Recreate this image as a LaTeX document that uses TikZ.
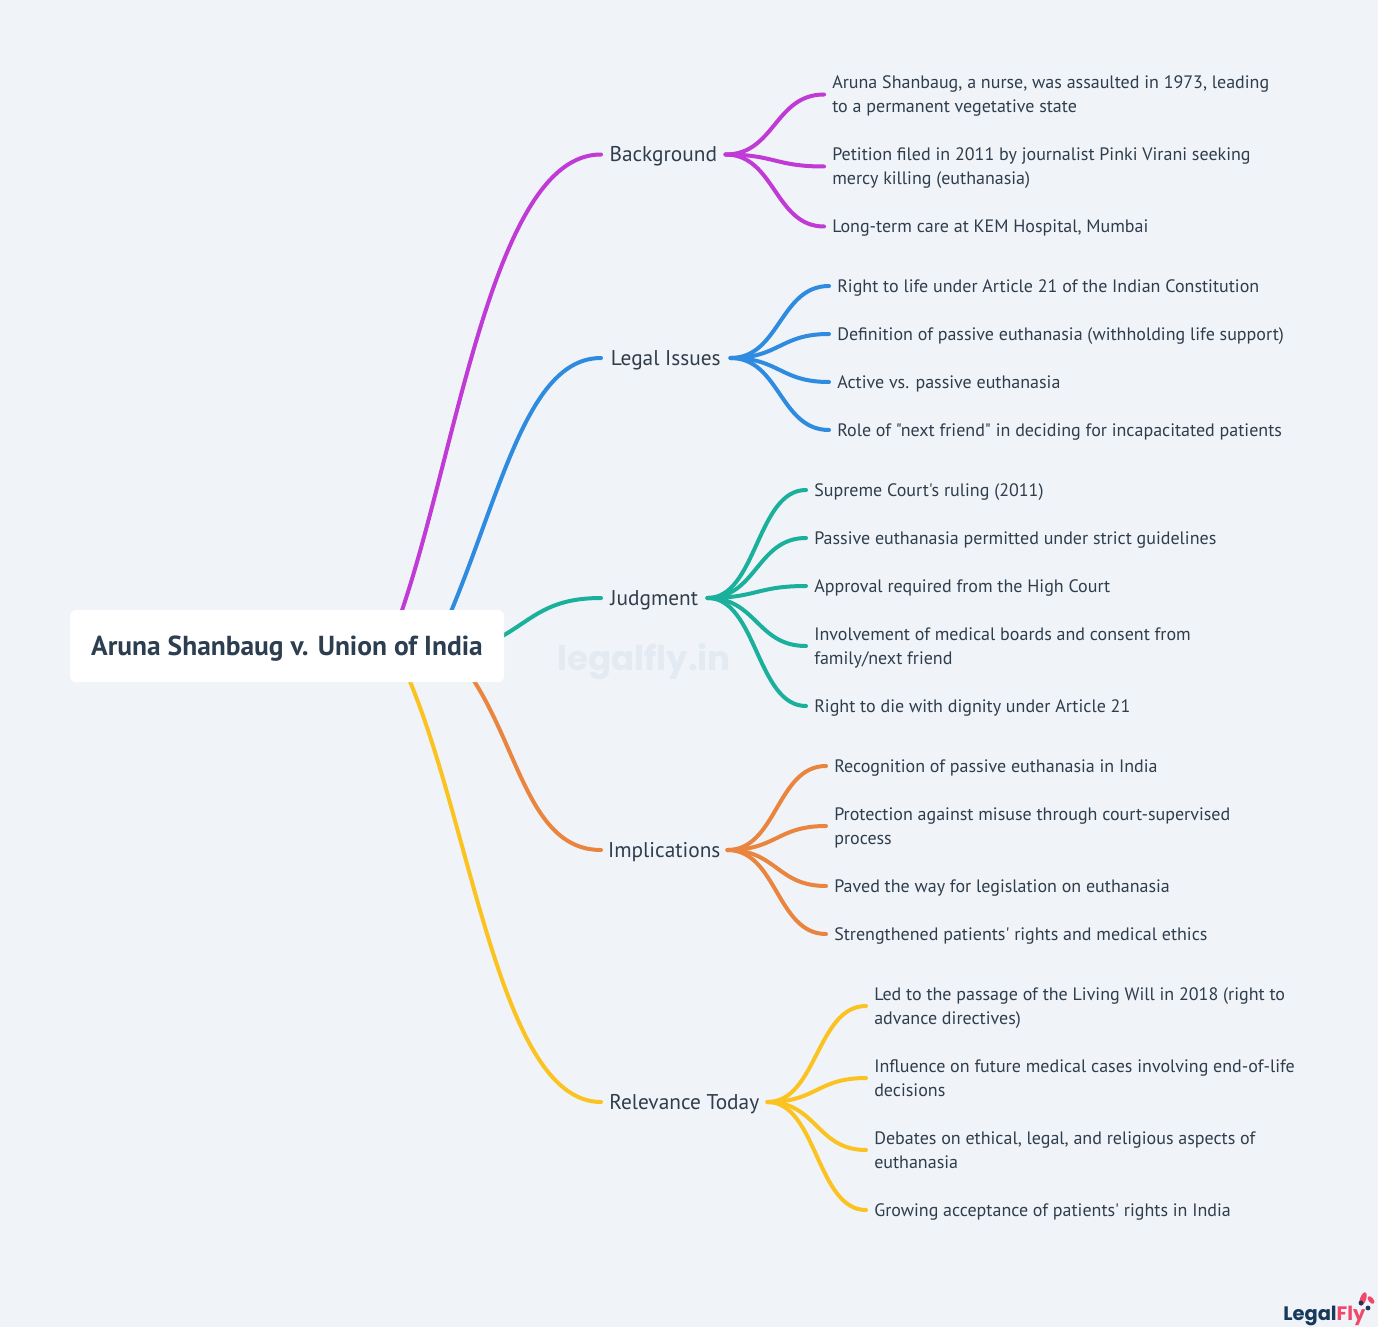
\documentclass[tikz,border=0pt]{standalone}
\usepackage{fontspec}
\setmainfont{PT Sans}[Ligatures=TeXOff]
\newfontfamily\logofont{Poppins}
\usetikzlibrary{calc}
\pgfdeclarelayer{canvas}
\pgfdeclarelayer{links}
\pgfsetlayers{canvas,links,main}
\definecolor{pagebg}{HTML}{F0F4F8}
\definecolor{inkc}{HTML}{2F3D4C}
\definecolor{rootc}{HTML}{2C3E50}
\definecolor{cpurple}{HTML}{C03AD6}
\definecolor{cblue}{HTML}{2E8BE0}
\definecolor{cteal}{HTML}{1AB09C}
\definecolor{corange}{HTML}{E9853E}
\definecolor{cyellow}{HTML}{FBC322}
\definecolor{wmark}{HTML}{E3EAF1}
\definecolor{lognavy}{HTML}{17395C}
\definecolor{logred}{HTML}{F0476A}
\newcommand\ls{\rule[-4.5pt]{0pt}{18pt}}
\newcommand\bs{\rule[-4.5pt]{0pt}{19.5pt}}
\newcommand\rs{\rule[-10pt]{0pt}{33.5pt}}
\tikzset{
  x=0.75pt,y=-0.75pt,
  rootbox/.style={fill=white,rounded corners=4.5pt,minimum width=325.5pt,minimum height=54pt,inner sep=0pt,text=rootc,font=\fontsize{20.6pt}{24pt}\selectfont\bfseries},
  branch/.style={anchor=west,inner sep=0pt,text=inkc,font=\fontsize{16pt}{18pt}\selectfont},
  leaf/.style={anchor=west,inner xsep=6pt,inner ysep=0pt,align=left,text=inkc,font=\fontsize{13.5pt}{18pt}\selectfont},
  link/.style={line width=3pt,line cap=round},
}
\newcommand\conn[3]{\draw[link,#3] let \p1=(#1.east),\p2=(#2.west),\n1={(\x1+\x2)/2} in (\p1) .. controls (\n1,\y1) and (\n1,\y2) .. (\p2);}
\begin{document}
\begin{tikzpicture}
\useasboundingbox (0,0) rectangle (1378,1327);
\begin{pgfonlayer}{canvas}
  \fill[pagebg] (0,0) rectangle (1378,1327);
  \node[text=wmark,font=\logofont\fontsize{25.5pt}{30pt}\selectfont\bfseries] (wm) at (644,662) {legalfly.in};
\end{pgfonlayer}

\node[rootbox] (root) at (287,646) {\rs Aruna Shanbaug v. Union of India};

\node[branch,minimum width=93pt] (bg) at (601,154.5) {\bs Background};
\node[branch,minimum width=96.75pt] (li) at (601,358) {\bs Legal Issues};
\node[branch,minimum width=79.5pt] (ju) at (601,598) {\bs Judgment};
\node[branch,minimum width=94.5pt] (im) at (601,850) {\bs Implications};
\node[branch,minimum width=124.5pt] (re) at (601,1102) {\bs Relevance Today};

\node[leaf] (b1) at (824,94.5) {\ls Aruna Shanbaug, a nurse, was assaulted in 1973, leading\\\ls to a permanent vegetative state};
\node[leaf] (b2) at (824,166.5) {\ls Petition filed in 2011 by journalist Pinki Virani seeking\\\ls mercy killing (euthanasia)};
\node[leaf] (b3) at (824,226.5) {\ls Long-term care at KEM Hospital, Mumbai};

\node[leaf] (l1) at (829,286) {\ls Right to life under Article 21 of the Indian Constitution};
\node[leaf] (l2) at (829,334) {\ls Definition of passive euthanasia (withholding life support)};
\node[leaf] (l3) at (829,382) {\ls Active vs. passive euthanasia};
\node[leaf] (l4) at (829,430) {\ls Role of "next friend" in deciding for incapacitated patients};

\node[leaf] (j1) at (806,490) {\ls Supreme Court's ruling (2011)};
\node[leaf] (j2) at (806,538) {\ls Passive euthanasia permitted under strict guidelines};
\node[leaf] (j3) at (806,586) {\ls Approval required from the High Court};
\node[leaf] (j4) at (806,646) {\ls Involvement of medical boards and consent from\\\ls family/next friend};
\node[leaf] (j5) at (806,706) {\ls Right to die with dignity under Article 21};

\node[leaf] (i1) at (826,766) {\ls Recognition of passive euthanasia in India};
\node[leaf] (i2) at (826,826) {\ls Protection against misuse through court-supervised\\\ls process};
\node[leaf] (i3) at (826,886) {\ls Paved the way for legislation on euthanasia};
\node[leaf] (i4) at (826,934) {\ls Strengthened patients' rights and medical ethics};

\node[leaf] (r1) at (866,1006) {\ls Led to the passage of the Living Will in 2018 (right to\\\ls advance directives)};
\node[leaf] (r2) at (866,1078) {\ls Influence on future medical cases involving end-of-life\\\ls decisions};
\node[leaf] (r3) at (866,1150) {\ls Debates on ethical, legal, and religious aspects of\\\ls euthanasia};
\node[leaf] (r4) at (866,1210) {\ls Growing acceptance of patients' rights in India};

\coordinate (sp) at (395,630);
\coordinate (sb) at (444,628);
\coordinate (st) at (485,645);
\coordinate (so) at (462,664);
\coordinate (sy) at (398,655);

\begin{pgfonlayer}{links}
  \draw[link,cpurple] (root.center) -- (sp) .. controls (455,470) and (490,154) .. (bg.west);
  \draw[link,cblue] (root.center) -- (sb) .. controls (500,500) and (525,358) .. (li.west);
  \draw[link,cteal] (root.center) -- (st) .. controls (530,625) and (540,598) .. (ju.west);
  \draw[link,corange] (root.center) -- (so) .. controls (518,735) and (525,850) .. (im.west);
  \draw[link,cyellow] (root.center) -- (sy) .. controls (470,800) and (495,1102) .. (re.west);
  \conn{bg}{b1}{cpurple}\conn{bg}{b2}{cpurple}\conn{bg}{b3}{cpurple}
  \conn{li}{l1}{cblue}\conn{li}{l2}{cblue}\conn{li}{l3}{cblue}\conn{li}{l4}{cblue}
  \conn{ju}{j1}{cteal}\conn{ju}{j2}{cteal}\conn{ju}{j3}{cteal}\conn{ju}{j4}{cteal}\conn{ju}{j5}{cteal}
  \conn{im}{i1}{corange}\conn{im}{i2}{corange}\conn{im}{i3}{corange}\conn{im}{i4}{corange}
  \conn{re}{r1}{cyellow}\conn{re}{r2}{cyellow}\conn{re}{r3}{cyellow}\conn{re}{r4}{cyellow}
\end{pgfonlayer}

\node[anchor=base west,inner sep=0pt,font=\logofont\fontsize{14.6pt}{18pt}\selectfont\bfseries] (logo) at (1283,1320) {\textcolor{lognavy}{Legal}\textcolor{logred}{Fly}};
\fill[logred,rotate around={-20:(1363,1299)}] (1363,1299) ellipse (3 and 7);
\fill[logred,rotate around={40:(1371,1300)}] (1371,1300) ellipse (2.5 and 4.5);
\fill[lognavy] (1361,1303) circle (2.4);
\fill[lognavy] (1368,1308) circle (2.4);
\end{tikzpicture}
\end{document}
